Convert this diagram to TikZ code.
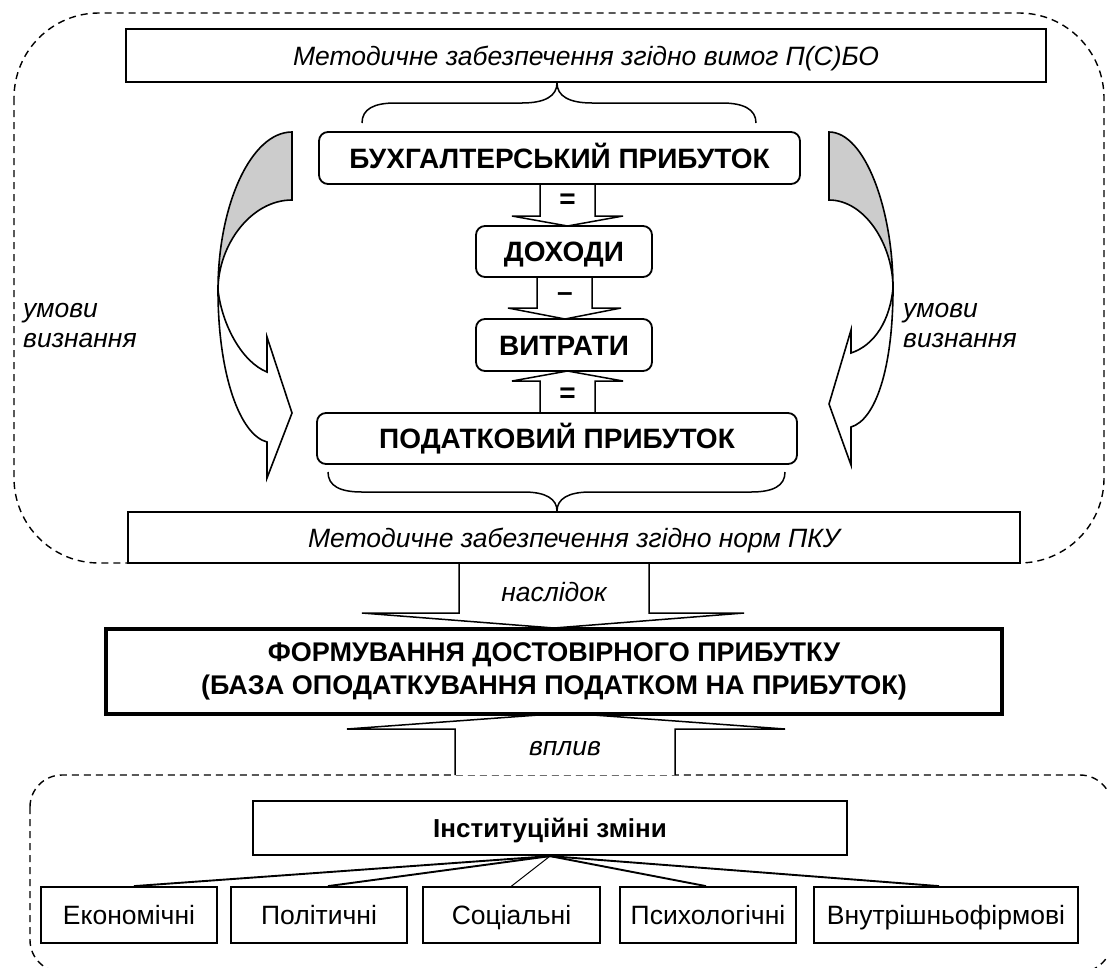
\documentclass[tikz,border=0pt]{standalone}
\usepackage{fontspec}
\setmainfont{Liberation Sans}
\begin{document}
\begin{tikzpicture}[x=1pt,y=-1pt,
  box/.style={draw, line width=1.8pt, fill=white, inner sep=0pt, anchor=center, align=center},
  rbox/.style={box, rounded corners=9pt},
  capc/.style={text height=#1, text depth=0pt},
  itf/.style={font=\fontsize{26.5}{31}\selectfont\itshape},
  bff/.style={font=\fontsize{28}{34}\selectfont\bfseries},
  rgf/.style={font=\fontsize{26.5}{31}\selectfont},
  dashbox/.style={draw, line width=1.4pt, dash pattern=on 7pt off 5pt},
  blockarrow/.style={draw, line width=1.5pt, fill=white, line join=miter},
  curvedarrow/.style={draw, line width=1.6pt, line join=miter},
  bracestyle/.style={draw, line width=1.5pt},
  conn/.style={draw, line width=1.9pt},
]
\useasboundingbox (0,0) rectangle (1107,967);
\clip (0,0) rectangle (1107,967);

% dashed regions
\draw[dashbox, rounded corners=85pt] (14,13) rectangle (1104,563);
\draw[dashbox, rounded corners=32pt] (30,775) rectangle (1112,972);

% curved arrows (left)
\fill[black!20] (292,132) .. controls (251,132) and (218,205) .. (218,290)
  .. controls (218,245) and (251,200) .. (292,200) -- cycle;
\draw[curvedarrow] (292,200) -- (292,132) .. controls (251,132) and (218,205) .. (218,290)
  .. controls (218,375) and (240,435) .. (267,442) -- (267,478) -- (292,413) -- (267,337) -- (267,372)
  .. controls (242,362) and (222,325) .. (218,290) .. controls (218,245) and (251,200) .. (292,200) -- cycle;
% curved arrows (right)
\fill[black!20] (829,132) .. controls (865,132) and (893,210) .. (893,288)
  .. controls (893,245) and (865,200) .. (829,200) -- cycle;
\draw[curvedarrow] (829,200) -- (829,132) .. controls (865,132) and (893,210) .. (893,288)
  .. controls (893,370) and (875,420) .. (851,427) -- (851,465) -- (829,404) -- (851,330) -- (851,353)
  .. controls (875,345) and (890,320) .. (893,288) .. controls (893,245) and (865,200) .. (829,200) -- cycle;

\node[itf, anchor=base west, inner sep=0pt] (umL1) at (23,317) {умови};
\node[itf, anchor=base west, inner sep=0pt] (umL2) at (23,347) {визнання};
\node[itf, anchor=base west, inner sep=0pt] (umR1) at (903,317) {умови};
\node[itf, anchor=base west, inner sep=0pt] (umR2) at (903,347) {визнання};

% braces
\draw[bracestyle] (362,123) .. controls (362,109) and (374,103) .. (395,103) -- (522,103)
  .. controls (545,103) and (557,96) .. (557,83) .. controls (557,96) and (569,103) .. (592,103)
  -- (722,103) .. controls (743,103) and (756,109) .. (756,123);
\draw[bracestyle] (328,472) .. controls (328,486) and (340,492) .. (362,492) -- (524,492)
  .. controls (546,492) and (557,499) .. (557,511) .. controls (557,499) and (568,492) .. (590,492)
  -- (751,492) .. controls (773,492) and (785,486) .. (785,472);

% block arrows in the middle
\draw[blockarrow] (540,184) -- (540,216) -- (512,216) -- (567.5,226) -- (623,216) -- (595,216) -- (595,184);
\draw[blockarrow] (537,277) -- (537,308) -- (508,308) -- (565,319) -- (621,308) -- (592,308) -- (592,277);
\draw[blockarrow] (540,413) -- (540,381) -- (512,381) -- (567.5,371) -- (623,381) -- (595,381) -- (595,413);
\node[bff] (eq1) at (567.5,201) {=};
\node[bff] (mn) at (565,297) {–};
\node[bff] (eq2) at (567.5,395) {=};

% consequence / influence arrows
\draw[blockarrow] (459,563) -- (459,613) -- (362,613) -- (554,628) -- (744,613) -- (649,613) -- (649,563);
\node[itf, anchor=base, inner sep=0pt] (nasl) at (554,601) {наслідок};
\draw[blockarrow] (455,775) -- (455,729) -- (347,729) -- (566,713) -- (785,729) -- (675,729) -- (675,775);
\node[itf, anchor=base, inner sep=0pt] (vplyv) at (565,755) {вплив};

% boxes
\node[box, line width=2.2pt, minimum width=920pt, minimum height=53pt, itf, capc=19pt] (psbo) at (586,55.5)
  {Методичне забезпечення згідно вимог П(С)БО};
\node[rbox, minimum width=481pt, minimum height=52pt, bff, capc=20pt] (buh) at (559.5,158) {БУХГАЛТЕРСЬКИЙ ПРИБУТОК};
\node[rbox, minimum width=176pt, minimum height=51pt, bff, capc=20pt] (doh) at (564,251.5) {ДОХОДИ};
\node[rbox, minimum width=176pt, minimum height=52pt, bff, capc=20pt] (vytr) at (564,345) {ВИТРАТИ};
\node[rbox, minimum width=480pt, minimum height=51pt, bff, capc=20pt] (pod) at (557,438.5) {ПОДАТКОВИЙ ПРИБУТОК};
\node[box, line width=2.2pt, minimum width=892pt, minimum height=51pt, itf, capc=19pt] (pku) at (574,537.5)
  {Методичне забезпечення згідно норм ПКУ};
\node[box, line width=4pt, minimum width=896pt, minimum height=85pt, font=\fontsize{27}{33}\selectfont\bfseries] (form) at (554,671)
  {ФОРМУВАННЯ ДОСТОВІРНОГО ПРИБУТКУ\\(БАЗА ОПОДАТКУВАННЯ ПОДАТКОМ НА ПРИБУТОК)};

\node[box, line width=2.2pt, minimum width=594pt, minimum height=54pt, capc=18.6pt, font=\fontsize{26}{31}\selectfont\bfseries] (inst) at (550,828) {Інституційні зміни};
\node[box, minimum width=176pt, minimum height=56pt, rgf, capc=19pt] (b1) at (129,915) {Економічні};
\node[box, minimum width=176pt, minimum height=56pt, rgf, capc=19pt] (b2) at (319,915) {Політичні};
\node[box, minimum width=177pt, minimum height=56pt, rgf, capc=19pt] (b3) at (511.5,915) {Соціальні};
\node[box, minimum width=176pt, minimum height=56pt, rgf, capc=19pt] (b4) at (708,915) {Психологічні};
\node[box, minimum width=264pt, minimum height=56pt, rgf, capc=19pt] (b5) at (946,915) {Внутрішньофірмові};

\coordinate (hub) at (inst.south);
\draw[conn] (hub) -- ([xshift=5pt]b1.north);
\draw[conn] (hub) -- ([xshift=9pt]b2.north);
\draw[line width=1pt] (hub) -- (b3.north);
\draw[conn] (hub) -- ([xshift=-2pt]b4.north);
\draw[conn] (hub) -- ([xshift=-7pt]b5.north);
\end{tikzpicture}
\end{document}
